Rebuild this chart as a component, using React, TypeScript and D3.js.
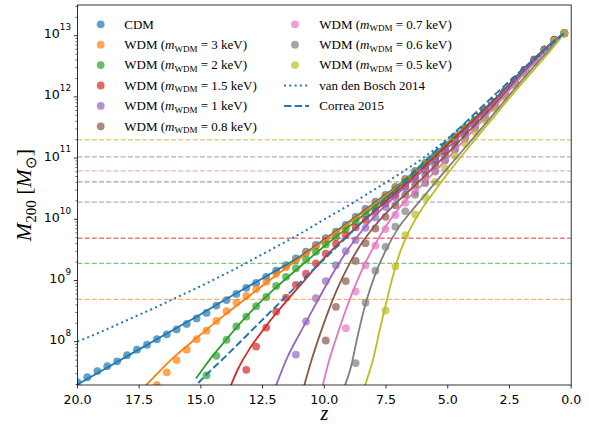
import React from 'react';
import * as d3 from 'd3';

const W = 589, H = 428;
const X0 = 77.4, X1 = 571.2, Y0 = 5, Y1 = 385;

// redshift of the simulation outputs
const zSnap = [20.0, 19.6, 19.19, 18.79, 18.39, 17.99, 17.59, 17.18, 16.78, 16.38, 15.98, 15.57, 15.17, 14.77, 14.37, 13.96, 13.56, 13.16, 12.76, 12.35, 11.95, 11.55, 11.15, 10.74, 10.34, 9.94, 9.53, 9.13, 8.73, 8.33, 7.93, 7.52, 7.12, 6.72, 6.32, 5.91, 5.51, 5.11, 4.71, 4.3, 3.9, 3.5, 3.1, 2.69, 2.29, 1.89, 1.49, 1.08, 0.68, 0.28];

// log10(M200 / Msun) of the simulated haloes (null = below the plot)
const dotsCDM = [7.34, 7.42, 7.52, 7.6, 7.68, 7.78, 7.87, 7.95, 8.04, 8.12, 8.2, 8.29, 8.38, 8.47, 8.59, 8.68, 8.78, 8.88, 8.96, 9.06, 9.16, 9.25, 9.36, 9.47, 9.58, 9.69, 9.8, 9.91, 10.04, 10.17, 10.29, 10.4, 10.53, 10.66, 10.79, 10.92, 11.05, 11.2, 11.36, 11.5, 11.62, 11.77, 11.92, 12.09, 12.27, 12.44, 12.61, 12.77, 12.93, 13.04];
const dots3 = [null, null, null, null, null, null, null, null, 7.29, 7.5, 7.7, 7.87, 8.04, 8.18, 8.34, 8.5, 8.64, 8.75, 8.86, 8.98, 9.11, 9.22, 9.33, 9.45, 9.56, 9.67, 9.78, 9.89, 10.02, 10.14, 10.27, 10.39, 10.52, 10.65, 10.78, 10.91, 11.04, 11.19, 11.35, 11.49, 11.61, 11.77, 11.92, 12.09, 12.27, 12.44, 12.61, 12.77, 12.93, 13.04];
const dots2 = [null, null, null, null, null, null, null, null, null, null, null, null, null, 7.45, 7.77, 8.03, 8.25, 8.41, 8.58, 8.73, 8.91, 9.06, 9.2, 9.34, 9.47, 9.59, 9.71, 9.84, 9.97, 10.1, 10.23, 10.35, 10.48, 10.61, 10.75, 10.89, 11.03, 11.18, 11.33, 11.48, 11.61, 11.77, 11.92, 12.09, 12.27, 12.44, 12.61, 12.77, 12.93, 13.04];
const dots15 = [null, null, null, null, null, null, null, null, null, null, null, null, null, null, null, null, null, 7.54, 7.92, 8.23, 8.49, 8.72, 8.93, 9.11, 9.28, 9.44, 9.6, 9.74, 9.87, 9.99, 10.13, 10.26, 10.4, 10.54, 10.68, 10.83, 10.98, 11.13, 11.29, 11.45, 11.59, 11.75, 11.91, 12.08, 12.26, 12.44, 12.61, 12.77, 12.93, 13.04];
const dots1 = [null, null, null, null, null, null, null, null, null, null, null, null, null, null, null, null, null, null, null, null, null, null, 7.79, 8.33, 8.71, 8.99, 9.25, 9.48, 9.66, 9.86, 10.03, 10.2, 10.36, 10.51, 10.66, 10.81, 10.96, 11.11, 11.27, 11.43, 11.58, 11.74, 11.9, 12.07, 12.25, 12.43, 12.6, 12.77, 12.93, 13.04];
const dots08 = [null, null, null, null, null, null, null, null, null, null, null, null, null, null, null, null, null, null, null, null, null, null, null, null, null, 8.02, 8.57, 8.99, 9.32, 9.61, 9.85, 10.04, 10.23, 10.4, 10.56, 10.72, 10.88, 11.04, 11.21, 11.38, 11.54, 11.71, 11.88, 12.06, 12.24, 12.42, 12.6, 12.77, 12.93, 13.04];
const dots07 = [null, null, null, null, null, null, null, null, null, null, null, null, null, null, null, null, null, null, null, null, null, null, null, null, null, null, null, 8.22, 8.82, 9.25, 9.57, 9.84, 10.07, 10.27, 10.45, 10.63, 10.8, 10.97, 11.15, 11.33, 11.5, 11.67, 11.85, 12.04, 12.23, 12.41, 12.59, 12.76, 12.92, 13.04];
const dots06 = [null, null, null, null, null, null, null, null, null, null, null, null, null, null, null, null, null, null, null, null, null, null, null, null, null, null, null, null, 7.65, 8.64, 9.16, 9.55, 9.88, 10.13, 10.4, 10.59, 10.78, 10.96, 11.14, 11.32, 11.49, 11.66, 11.84, 12.02, 12.21, 12.4, 12.58, 12.76, 12.92, 13.04];
const dots05 = [null, null, null, null, null, null, null, null, null, null, null, null, null, null, null, null, null, null, null, null, null, null, null, null, null, null, null, null, null, null, null, 8.51, 9.23, 9.74, 10.08, 10.36, 10.61, 10.83, 11.04, 11.24, 11.43, 11.62, 11.81, 12.0, 12.19, 12.38, 12.56, 12.74, 12.92, 13.04];

// fitted accretion histories: [z, log10 M]
const fitCDM = [[20, 7.3], [19, 7.53], [18, 7.76], [17, 7.99], [16, 8.22], [15, 8.45], [14, 8.69], [13, 8.92], [12, 9.15], [11, 9.39], [10, 9.67], [9, 9.96], [8, 10.26], [7, 10.56], [6, 10.9], [5, 11.26], [4, 11.62], [3, 12.0], [2, 12.42], [1, 12.81], [0.28, 13.04]];
const fit3 = [[17.22, 7.29], [17, 7.38], [16.5, 7.59], [16, 7.78], [15.5, 7.95], [15, 8.12], [14, 8.45], [13, 8.76], [12, 9.07], [11, 9.36], [10, 9.65], [9, 9.94], [8, 10.24], [7, 10.55], [6, 10.89], [5, 11.25], [4, 11.62], [3, 12.0], [2, 12.42], [1, 12.81], [0.28, 13.04]];
const fit2 = [[15.2, 7.4], [15, 7.51], [14.5, 7.78], [14, 8.02], [13.5, 8.26], [13, 8.48], [12, 8.87], [11, 9.22], [10, 9.56], [9, 9.88], [8, 10.2], [7, 10.52], [6, 10.88], [5, 11.24], [4, 11.61], [3, 12.0], [2, 12.42], [1, 12.81], [0.28, 13.04]];
const fit15 = [[13.78, 7.29], [13.5, 7.55], [13, 7.9], [12.5, 8.18], [12, 8.44], [11.5, 8.68], [11, 8.91], [10, 9.37], [9, 9.76], [8, 10.12], [7, 10.47], [6, 10.84], [5, 11.22], [4, 11.6], [3, 11.99], [2, 12.42], [1, 12.81], [0.28, 13.04]];
const fit1 = [[11.95, 7.29], [11.5, 7.74], [11, 8.13], [10.5, 8.5], [10, 8.87], [9.5, 9.22], [9, 9.53], [8.5, 9.8], [8, 10.03], [7, 10.43], [6, 10.8], [5, 11.17], [4, 11.56], [3, 11.96], [2, 12.4], [1, 12.8], [0.28, 13.04]];
const fit08 = [[10.81, 7.29], [10.5, 7.72], [10, 8.32], [9.5, 8.84], [9, 9.26], [8.5, 9.6], [8, 9.87], [7.5, 10.1], [7, 10.3], [6, 10.68], [5, 11.08], [4, 11.5], [3, 11.92], [2, 12.37], [1, 12.78], [0.28, 13.04]];
const fit07 = [[10.06, 7.29], [9.8, 7.7], [9.5, 8.08], [9, 8.66], [8.5, 9.15], [8, 9.55], [7.5, 9.89], [7, 10.17], [6, 10.58], [5, 11.0], [4, 11.44], [3, 11.88], [2, 12.34], [1, 12.76], [0.28, 13.04]];
const fit06 = [[9.16, 7.29], [8.9, 7.62], [8.7, 8.0], [8.3, 8.66], [7.9, 9.14], [7.5, 9.5], [7, 9.86], [6.5, 10.12], [6, 10.36], [5, 10.84], [4, 11.31], [3, 11.79], [2, 12.27], [1, 12.72], [0.28, 13.04]];
const fit05 = [[8.35, 7.29], [8.0, 7.75], [7.74, 8.22], [7.5, 8.62], [7.3, 8.95], [7.0, 9.38], [6.5, 9.86], [6.0, 10.2], [5.5, 10.48], [5.0, 10.75], [4, 11.25], [3, 11.74], [2, 12.22], [1, 12.68], [0.28, 13.04]];

// analytic models
const vdBosch2014 = [[20, 8.0], [19, 8.17], [18, 8.35], [17, 8.53], [16, 8.72], [15, 8.91], [14, 9.11], [13, 9.32], [12, 9.54], [11, 9.76], [10, 10.0], [9, 10.23], [8, 10.48], [7, 10.73], [6, 11.0], [5, 11.32], [4, 11.66], [3, 12.02], [2, 12.4], [1, 12.78], [0.28, 13.04]];
const correa2015 = [[15.4, 7.2], [15, 7.37], [14, 7.76], [13, 8.16], [12, 8.56], [11, 8.96], [10, 9.35], [9, 9.75], [8, 10.14], [7, 10.53], [6, 10.92], [5, 11.31], [4, 11.69], [3, 12.07], [2, 12.44], [1, 12.8], [0.28, 13.04]];

// half-mode masses, log10 M
const halfMode = [null, 8.69, 9.28, 9.69, 10.28, 10.61, 10.79, 11.02, 11.3];

const masses = ['', '3', '2', '1.5', '1', '0.8', '0.7', '0.6', '0.5'];
const colors = ['#1f77b4', '#ff7f0e', '#2ca02c', '#d62728', '#9467bd', '#8c564b', '#e377c2', '#7f7f7f', '#bcbd22'];
const dotSets = [dotsCDM, dots3, dots2, dots15, dots1, dots08, dots07, dots06, dots05];
const fitSets = [fitCDM, fit3, fit2, fit15, fit1, fit08, fit07, fit06, fit05];

const xTicks = [20, 17.5, 15, 12.5, 10, 7.5, 5, 2.5, 0];
const yDecades = [8, 9, 10, 11, 12, 13];

const SERIF = "'Liberation Serif', 'Times New Roman', serif";
const SANS = "'DejaVu Sans', sans-serif";

function WdmLabel({ x, y, m }: { x: number; y: number; m: string }) {
  return (
    <text x={x} y={y} fontFamily={SERIF} fontSize={13} fill="#000">
      WDM (<tspan fontStyle="italic">m</tspan>
      <tspan fontSize={9} dy={2.6}>WDM</tspan>
      <tspan dy={-2.6}> = {m} keV)</tspan>
    </text>
  );
}

export default function App() {
  const x = d3.scaleLinear().domain([20, 0]).range([X0, X1]);
  const y = d3.scaleLog().domain([Math.pow(10, 7.2925), Math.pow(10, 13.5016)]).range([Y1, Y0]);
  const line = d3
    .line<number[]>()
    .x((d) => x(d[0]))
    .y((d) => y(Math.pow(10, d[1])))
    .curve(d3.curveMonotoneX);

  const minorTicks: number[] = [];
  for (let e = 7; e <= 13; e++) {
    for (let k = 2; k <= 9; k++) {
      const v = k * Math.pow(10, e);
      const l = Math.log10(v);
      if (l >= 7.2925 && l <= 13.5016) minorTicks.push(v);
    }
  }

  const legendLeft = [0, 1, 2, 3, 4, 5];
  const legendRight = [6, 7, 8];
  const rowY = (k: number) => 24.3 + k * 20.4;

  return (
    <svg width={W} height={H} style={{ display: 'block', position: 'absolute', left: 0, top: 0 }}>
      <rect x={0} y={0} width={W} height={H} fill="#fff" />
      <defs>
        <clipPath id="plotclip">
          <rect x={X0} y={Y0} width={X1 - X0} height={Y1 - Y0} />
        </clipPath>
      </defs>
      <g clipPath="url(#plotclip)">
        {dotSets.map((set, si) => (
          <g key={'d' + si} fill={colors[si]} fillOpacity={0.7}>
            {set.map((v, i) =>
              v === null ? null : <circle key={i} cx={x(zSnap[i])} cy={y(Math.pow(10, v))} r={3.9} />
            )}
          </g>
        ))}
        {fitSets.map((fit, si) => (
          <g key={'l' + si}>
            <path d={line(fit) || ''} fill="none" stroke={colors[si]} strokeWidth={1.8} />
            {halfMode[si] !== null && (
              <line
                x1={X0}
                x2={X1}
                y1={y(Math.pow(10, halfMode[si] as number))}
                y2={y(Math.pow(10, halfMode[si] as number))}
                stroke={colors[si]}
                strokeOpacity={0.6}
                strokeWidth={1.3}
                strokeDasharray="5,2.2"
              />
            )}
          </g>
        ))}
        <path d={line(vdBosch2014) || ''} fill="none" stroke={colors[0]} strokeWidth={2} strokeDasharray="2,3.3" />
        <path d={line(correa2015) || ''} fill="none" stroke={colors[0]} strokeWidth={2} strokeDasharray="7.4,3.2" />
      </g>

      {/* frame */}
      <rect x={X0} y={Y0} width={X1 - X0} height={Y1 - Y0} fill="none" stroke="#000" strokeWidth={0.8} />

      {/* x axis */}
      {xTicks.map((t) => (
        <g key={'xt' + t}>
          <line x1={x(t)} x2={x(t)} y1={Y1} y2={Y1 + 3.5} stroke="#000" strokeWidth={0.8} />
          <text x={x(t)} y={403.8} textAnchor="middle" fontFamily={SANS} fontSize={12.6} fill="#000">
            {t.toFixed(1)}
          </text>
        </g>
      ))}
      <text x={(X0 + X1) / 2} y={419.5} textAnchor="middle" fontFamily={SERIF} fontStyle="italic" fontSize={20} fill="#000">
        z
      </text>

      {/* y axis */}
      {minorTicks.map((v, i) => (
        <line key={'ym' + i} x1={X0 - 2} x2={X0} y1={y(v)} y2={y(v)} stroke="#000" strokeWidth={0.6} />
      ))}
      {yDecades.map((e) => (
        <g key={'yt' + e}>
          <line x1={X0 - 3.5} x2={X0} y1={y(Math.pow(10, e))} y2={y(Math.pow(10, e))} stroke="#000" strokeWidth={0.8} />
          <text x={71} y={y(Math.pow(10, e)) + 2.6} textAnchor="end" fontFamily={SANS} fontSize={12.6} fill="#000">
            10
            <tspan fontSize={8.8} dy={-8.3}>{e}</tspan>
          </text>
        </g>
      ))}
      <text
        transform={`translate(31, ${(Y0 + Y1) / 2}) rotate(-90)`}
        textAnchor="middle"
        fontFamily={SERIF}
        fontSize={22}
        fill="#000"
      >
        <tspan fontStyle="italic">M</tspan>
        <tspan fontSize={15} dy={4.5}>200</tspan>
        <tspan dy={-4.5}> [</tspan>
        <tspan fontStyle="italic">M</tspan>
        <tspan fontSize={15} dy={4.5}>⊙</tspan>
        <tspan dy={-4.5}>]</tspan>
      </text>

      {/* legend */}
      {legendLeft.map((si, k) => (
        <g key={'lg' + si}>
          <circle cx={100.7} cy={rowY(k)} r={3.9} fill={colors[si]} fillOpacity={0.7} />
          {si === 0 ? (
            <text x={124.3} y={rowY(k) + 4.3} fontFamily={SERIF} fontSize={13} fill="#000">
              CDM
            </text>
          ) : (
            <WdmLabel x={124.3} y={rowY(k) + 4.3} m={masses[si]} />
          )}
        </g>
      ))}
      {legendRight.map((si, k) => (
        <g key={'lg' + si}>
          <circle cx={295} cy={rowY(k)} r={3.9} fill={colors[si]} fillOpacity={0.7} />
          <WdmLabel x={319.3} y={rowY(k) + 4.3} m={masses[si]} />
        </g>
      ))}
      <line x1={284} x2={309} y1={rowY(3)} y2={rowY(3)} stroke={colors[0]} strokeWidth={2} strokeDasharray="2,3.3" />
      <text x={319.3} y={rowY(3) + 4.3} fontFamily={SERIF} fontSize={13} fill="#000">
        van den Bosch 2014
      </text>
      <line x1={284} x2={309} y1={rowY(4)} y2={rowY(4)} stroke={colors[0]} strokeWidth={2} strokeDasharray="7.4,3.2" />
      <text x={319.3} y={rowY(4) + 4.3} fontFamily={SERIF} fontSize={13} fill="#000">
        Correa 2015
      </text>
    </svg>
  );
}
